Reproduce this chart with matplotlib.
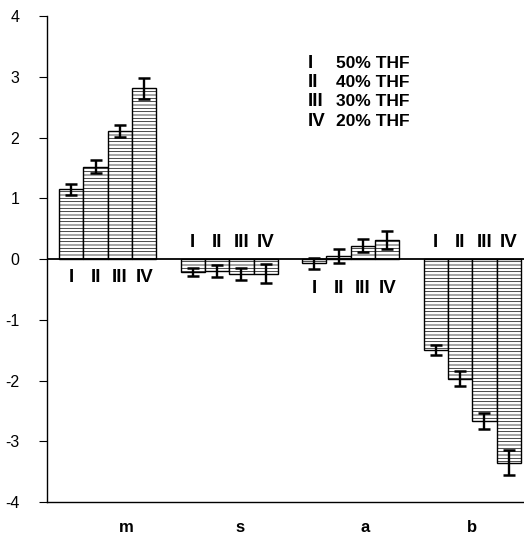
import matplotlib.pyplot as plt
import numpy as np

plt.rcParams['font.family'] = ['Liberation Sans', 'DejaVu Sans']
plt.rcParams['axes.unicode_minus'] = False
plt.rcParams['hatch.linewidth'] = 0.5
plt.rcParams['hatch.color'] = 'black'

# parameters and solvent compositions
params = ['m', 's', 'a', 'b']
numerals = ['I', 'II', 'III', 'IV']
thf = ['50% THF', '40% THF', '30% THF', '20% THF']

m_vals = [1.15, 1.52, 2.11, 2.81]
m_err = [0.09, 0.11, 0.10, 0.18]
s_vals = [-0.21, -0.19, -0.24, -0.24]
s_err = [0.07, 0.10, 0.10, 0.16]
a_vals = [-0.07, 0.05, 0.22, 0.31]
a_err = [0.09, 0.11, 0.11, 0.15]
b_vals = [-1.50, -1.97, -2.66, -3.35]
b_err = [0.08, 0.12, 0.13, 0.21]

all_vals = [m_vals, s_vals, a_vals, b_vals]
all_err = [m_err, s_err, a_err, b_err]

# where the I..IV labels sit for each group
numeral_y = [-0.30, 0.27, -0.48, 0.27]
param_x = [3.25, 7.95, 13.1, 17.5]

narrow = ['Liberation Sans Narrow', 'Liberation Sans', 'DejaVu Sans']

fig = plt.figure(figsize=(5.24, 5.4), dpi=100)
ax = fig.add_axes([0.0897, 0.0704, 0.9103, 0.8996])

for g in range(4):
    xs = np.arange(1, 5) + 5 * g
    ax.bar(xs, all_vals[g], width=1.0, color='white', edgecolor='black',
           linewidth=1.0, hatch='-----', zorder=2)
    ax.errorbar(xs, all_vals[g], yerr=all_err[g], fmt='none', ecolor='black',
                elinewidth=1.7, capsize=4.5, capthick=1.8, zorder=3)
    for x, n in zip(xs, numerals):
        ax.text(x, numeral_y[g], n, ha='center', va='center',
                fontsize=13.5, fontweight='bold', family=narrow)

ax.axhline(0, color='black', lw=1.3, zorder=4)

# composition key
key_y = [3.22, 2.90, 2.59, 2.27]
for n, t, y in zip(numerals, thf, key_y):
    ax.text(10.75, y, n, ha='left', va='center', fontsize=13.5,
            fontweight='bold', family=narrow)
    ax.text(11.9, y, t, ha='left', va='center', fontsize=12.5, fontweight='bold')

ax.set_xlim(0, 19.63)
ax.set_ylim(-4, 4)
ax.set_yticks(np.arange(-4, 5, 1))
ax.set_xticks(param_x)
ax.set_xticklabels(params, fontsize=12, fontweight='bold')
ax.tick_params(axis='x', length=0, pad=13)
ax.tick_params(axis='y', direction='out', length=6, width=0.8, pad=14, labelsize=11.5)

for side in ['top', 'right']:
    ax.spines[side].set_visible(False)
ax.spines['left'].set_linewidth(1.0)
ax.spines['bottom'].set_linewidth(1.0)

fig.savefig('out.png', dpi=100)
